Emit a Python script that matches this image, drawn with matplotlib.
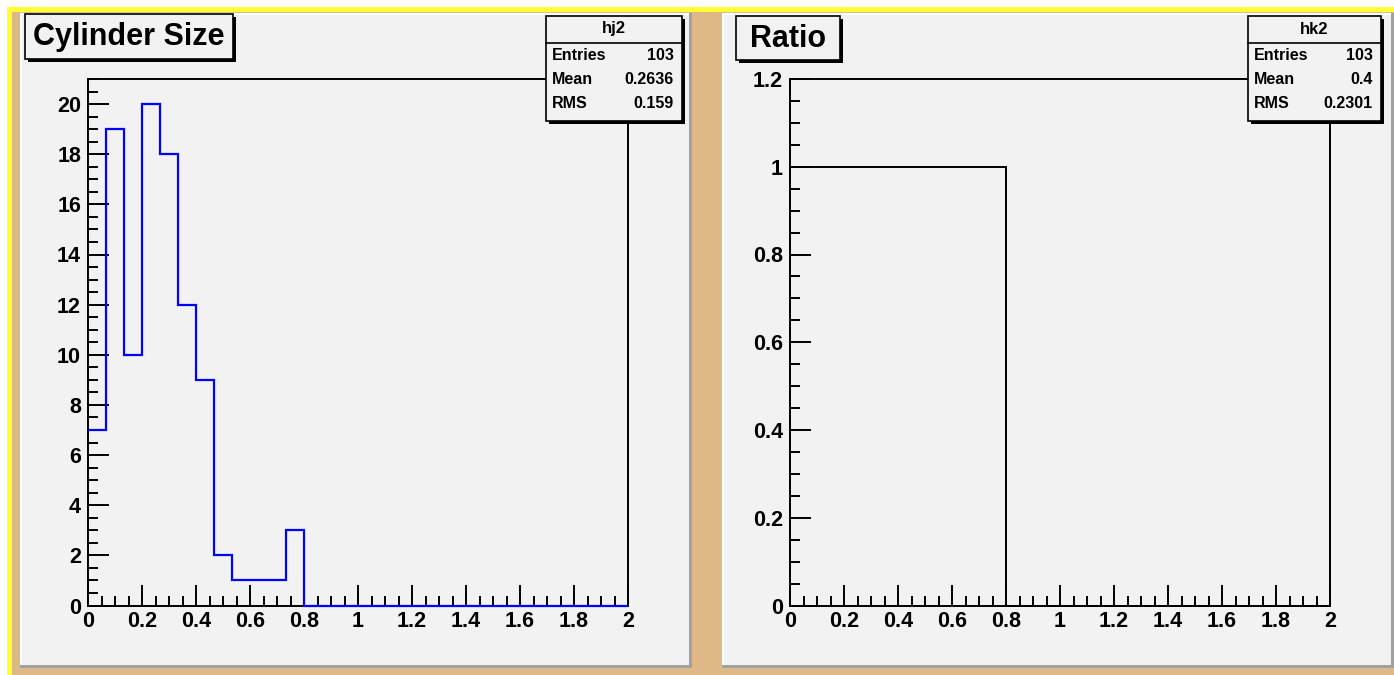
import matplotlib
matplotlib.use('Agg')
import matplotlib.pyplot as plt
from matplotlib.patches import Rectangle
from matplotlib.ticker import MultipleLocator
import numpy as np

plt.rcParams['font.family'] = ['Liberation Sans', 'DejaVu Sans']

# histogram contents (30 bins between 0 and 2)
nbins = 30
xlow, xhigh = 0.0, 2.0
cyl_size = [7, 19, 10, 20, 18, 12, 9, 2, 1, 1, 1, 3,
            0, 0, 0, 0, 0, 0, 0, 0, 0, 0, 0, 0, 0, 0, 0, 0, 0, 0]
ratio = [1, 1, 1, 1, 1, 1, 1, 1, 1, 1, 1, 1,
         0, 0, 0, 0, 0, 0, 0, 0, 0, 0, 0, 0, 0, 0, 0, 0, 0, 0]

titles = ['Cylinder Size', 'Ratio']
stat_names = ['hj2', 'hk2']
stat_rows = [[('Entries', '103'), ('Mean', '0.2636'), ('RMS', '0.159')],
             [('Entries', '103'), ('Mean', '0.4'), ('RMS', '0.2301')]]

W, H = 1394, 675
fig = plt.figure(figsize=(W / 100, H / 100), dpi=100)
fig.patch.set_facecolor('white')

TAN = '#deb887'
PADC = '#f2f2f2'

# background canvas in pixel coords
bg = fig.add_axes([0, 0, 1, 1], zorder=0)
bg.set_xlim(0, W)
bg.set_ylim(H, 0)
bg.axis('off')
bg.add_patch(Rectangle((7, 7), W, H, color='#ffff33', lw=0))
bg.add_patch(Rectangle((12, 12), W, H, color=TAN, lw=0))

pads = [(20, 13, 692, 668), (722, 13, 1394, 668)]
for x0, y0, x1, y1 in pads:
    bg.add_patch(Rectangle((x0, y0), x1 - x0, y1 - y0, color='#a0a0a0', lw=0))
    bg.add_patch(Rectangle((x0, y0), x1 - x0 - 3, y1 - y0 - 3, color='white', lw=0))
    bg.add_patch(Rectangle((x0 + 2, y0 + 2), x1 - x0 - 5, y1 - y0 - 5, color=PADC, lw=0))

frames = [(88, 79, 628, 605.5), (790, 79, 1330, 605.5)]
edges = np.linspace(xlow, xhigh, nbins + 1)

def make_axes(fr):
    x0, y0, x1, y1 = fr
    ax = fig.add_axes([x0 / W, 1 - y1 / H, (x1 - x0) / W, (y1 - y0) / H], zorder=1)
    ax.set_facecolor('none')
    for s in ax.spines.values():
        s.set_linewidth(1.4)
    ax.set_xlim(xlow, xhigh)
    ax.xaxis.set_major_locator(MultipleLocator(0.2))
    ax.xaxis.set_minor_locator(MultipleLocator(0.05))
    ax.tick_params(which='both', direction='in', top=False, right=False, width=1.4)
    ax.tick_params(which='major', length=15)
    ax.tick_params(which='minor', length=7)
    ax.tick_params(axis='x', pad=4)
    ax.tick_params(axis='y', pad=5)
    return ax

def fmt(v, pos):
    s = ('%.1f' % v).rstrip('0').rstrip('.')
    return s

ax1 = make_axes(frames[0])
ax1.stairs(cyl_size, edges, color='blue', lw=1.6, baseline=None,
           zorder=3, clip_on=False)
ax1.set_ylim(0, 1.05 * max(cyl_size))
ax1.yaxis.set_major_locator(MultipleLocator(2))
ax1.yaxis.set_minor_locator(MultipleLocator(0.5))

ax2 = make_axes(frames[1])
ax2.stairs(ratio, edges, color='black', lw=1.4, baseline=None,
           zorder=3, clip_on=False)
ax2.set_ylim(0, 1.2)
ax2.yaxis.set_major_locator(MultipleLocator(0.2))
ax2.yaxis.set_minor_locator(MultipleLocator(0.05))

for ax in (ax1, ax2):
    ax.xaxis.set_major_formatter(plt.FuncFormatter(fmt))
    ax.yaxis.set_major_formatter(plt.FuncFormatter(fmt))
    for lab in ax.get_xticklabels() + ax.get_yticklabels():
        lab.set_fontweight('bold')
        lab.set_fontsize(15.5)

# overlay with title boxes and stats boxes
ov = fig.add_axes([0, 0, 1, 1], zorder=5)
ov.set_xlim(0, W)
ov.set_ylim(H, 0)
ov.axis('off')
ov.set_facecolor('none')

def box(x0, y0, x1, y1):
    ov.add_patch(Rectangle((x0 + 3, y0 + 3), x1 - x0, y1 - y0, color='black', lw=0))
    ov.add_patch(Rectangle((x0, y0), x1 - x0, y1 - y0, facecolor=PADC,
                           edgecolor='black', lw=1.2))

title_boxes = [(25, 14, 233, 59), (736, 16, 840, 60)]
for (x0, y0, x1, y1), t in zip(title_boxes, titles):
    box(x0, y0, x1, y1)
    ov.text((x0 + x1) / 2, (y0 + y1) / 2 + 1, t, ha='center', va='center',
            fontsize=22, fontweight='bold')

stat_boxes = [(546, 16, 682, 121), (1248, 16, 1381, 121)]
for (x0, y0, x1, y1), name, rows in zip(stat_boxes, stat_names, stat_rows):
    box(x0, y0, x1, y1)
    ov.plot([x0, x1], [43, 43], color='black', lw=1.2)
    ov.text((x0 + x1) / 2, 29, name, ha='center', va='center',
            fontsize=12, fontweight='bold')
    for i, (k, v) in enumerate(rows):
        yy = 55 + i * 24.5
        ov.text(x0 + 6, yy, k, ha='left', va='center', fontsize=11.5, fontweight='bold')
        ov.text(x1 - 8, yy, v, ha='right', va='center', fontsize=11.5, fontweight='bold')

fig.savefig('out.png', dpi=100)
